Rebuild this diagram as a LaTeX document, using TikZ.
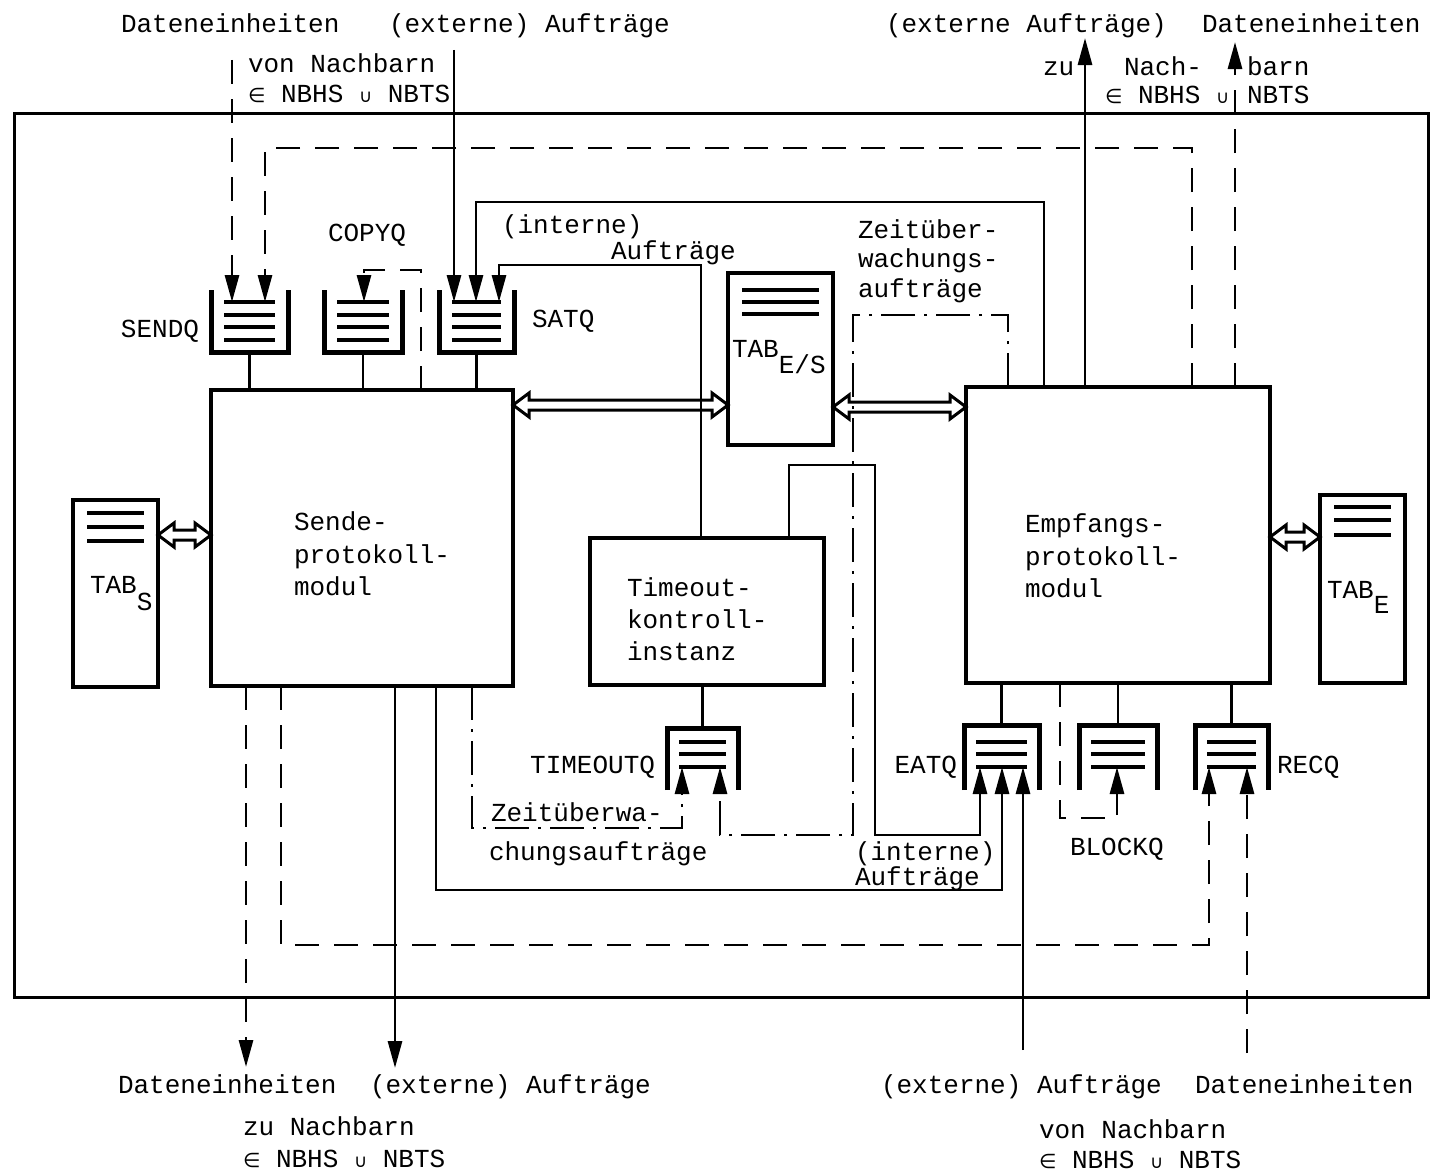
\documentclass[tikz,border=0pt]{standalone}
\usepackage{fontspec}
\setmainfont{Liberation Mono}
\newfontfamily\symfont{DejaVu Sans}
\usetikzlibrary{arrows.meta,calc}
\newcommand\elemof{{\symfont\fontsize{20}{20}\selectfont ∈}}
\newcommand\unionof{{\symfont\fontsize{18}{18}\selectfont ∪}}
\tikzset{
  every node/.style={inner sep=0pt, outer sep=0pt},
  lbl/.style={font=\fontsize{26}{30}\selectfont, anchor=base west},
  lblR/.style={lbl, anchor=base east},
  blk/.style={draw, line width=4.5pt, rectangle},
  qn/.style={rectangle},
  qedge/.style={line width=5pt},
  qrow/.style={line width=4pt},
  conn/.style={line width=2.9pt},
  dsh/.style={conn, dash pattern=on 24pt off 15pt},
  ddot/.style={conn, dash pattern=on 34pt off 9pt on 3pt off 9pt},
  tip/.style={-{Triangle[length=27pt,width=14pt]}},
  dbl/.style={line width=3pt, line join=miter},
  frame/.style={draw, line width=3pt},
}
\newcommand\upqueue[1]{%
  \draw[qedge] ([yshift=12pt]#1.north west) -- (#1.south west) -- (#1.south east) -- ([yshift=12pt]#1.north east);
  \foreach \d in {0,13,25,38}{\draw[qrow] ([xshift=13pt,yshift=-\d pt]#1.north west) -- ([xshift=-13pt,yshift=-\d pt]#1.north east);}}
\newcommand\downqueue[1]{%
  \draw[qedge] ([yshift=-23pt]#1.south west) -- (#1.north west) -- (#1.north east) -- ([yshift=-23pt]#1.south east);
  \foreach \d in {0,13,25}{\draw[qrow] ([xshift=12pt,yshift=\d pt]#1.south west) -- ([xshift=-12pt,yshift=\d pt]#1.south east);}}
\newcommand\tablines[2]{%
  \foreach \d in {#2}{\draw[qrow] ([xshift=14pt,yshift=-\d pt]#1.north west) -- ([xshift=-14pt,yshift=-\d pt]#1.north east);}}
\newcommand\dblarrow[3]{%
  \draw[dbl] let \p1=(#1 |- 0,#3), \p2=(#2 |- 0,#3) in
   (\x1,\y1) -- (\x1+16pt,\y1+12pt) -- (\x1+16pt,\y1+5pt) -- (\x2-16pt,\y1+5pt) -- (\x2-16pt,\y1+12pt) -- (\x2,\y1)
   -- (\x2-16pt,\y1-12pt) -- (\x2-16pt,\y1-5pt) -- (\x1+16pt,\y1-5pt) -- (\x1+16pt,\y1-12pt) -- cycle;}
\begin{document}
\begin{tikzpicture}[x=1pt,y=-1pt]
\useasboundingbox (0,0) rectangle (1439,1172);
\node[frame, minimum width=1414pt, minimum height=884pt] (outer) at (721,555) {};
% main blocks
\node[blk, minimum width=302pt, minimum height=296pt] (sende) at (362,538) {};
\node[blk, minimum width=304pt, minimum height=296pt] (empf) at (1118,535) {};
\node[blk, minimum width=234pt, minimum height=147pt] (timeout) at (707,611.5) {};
\node[blk, minimum width=85pt, minimum height=187pt] (tabS) at (115.5,593.5) {};
\node[blk, minimum width=85pt, minimum height=188pt] (tabE) at (1362.5,589) {};
\node[blk, minimum width=105pt, minimum height=172pt] (tabES) at (780.5,359) {};
\tablines{tabS}{13,27,41}
\tablines{tabE}{12,25,40}
\tablines{tabES}{17,29,41}
% block texts
\node[lbl] (s1) at (294,530) {Sende-};
\node[lbl] (s2) at (294,563) {protokoll-};
\node[lbl] (s3) at (294,595) {modul};
\node[lbl] (t1) at (627,596) {Timeout-};
\node[lbl] (t2) at (627,628) {kontroll-};
\node[lbl] (t3) at (627,660) {instanz};
\node[lbl] (e1) at (1025,532) {Empfangs-};
\node[lbl] (e2) at (1025,565) {protokoll-};
\node[lbl] (e3) at (1025,597) {modul};
\node[lbl] (tabSl) at (90,593) {TAB\raisebox{-17pt}{S}};
\node[lbl] (tabEl) at (1327,598) {TAB\raisebox{-15pt}{E}};
\node[lbl] (tabESl) at (732,357) {TAB\raisebox{-16pt}{E/S}};
% queues
\node[qn, minimum width=77pt, minimum height=50pt] (sendq) at (249.5,327) {};
\node[qn, minimum width=78pt, minimum height=50pt] (copyq) at (363,327) {};
\node[qn, minimum width=75pt, minimum height=50pt] (satq) at (476.5,327) {};
\node[qn, minimum width=71pt, minimum height=39pt] (timeoutq) at (702.5,747.5) {};
\node[qn, minimum width=75pt, minimum height=42pt] (eatq) at (1001.5,746) {};
\node[qn, minimum width=78pt, minimum height=42pt] (blockq) at (1118,746) {};
\node[qn, minimum width=73pt, minimum height=42pt] (recq) at (1231.5,746) {};
\upqueue{sendq}\upqueue{copyq}\upqueue{satq}
\downqueue{timeoutq}\downqueue{eatq}\downqueue{blockq}\downqueue{recq}
\node[lblR] (sendqL) at (199,337) {SENDQ};
\node[lbl] (copyqL) at (328,241) {COPYQ};
\node[lbl] (satqL) at (532,327) {SATQ};
\node[lblR] (timeoutqL) at (655,773) {TIMEOUTQ};
\node[lblR] (eatqL) at (957,773) {EATQ};
\node[lbl] (blockqL) at (1070,855) {BLOCKQ};
\node[lbl] (recqL) at (1277,773) {RECQ};
% outside labels
\node[lbl] (l1) at (121,33) {Dateneinheiten};
\node[lbl] (l2) at (389,33) {(externe) Aufträge};
\node[lbl] (l3) at (248,72) {von Nachbarn};
\node[lbl] (l4) at (248,102) {\elemof{} NBHS \unionof{} NBTS};
\node[lbl] (l5) at (886,33) {(externe Aufträge)};
\node[lbl] (l6) at (1202,33) {Dateneinheiten};
\node[lbl] (l7) at (1043,75) {zu};
\node[lbl] (l8) at (1124,75) {Nach-};
\node[lbl] (l9) at (1247,75) {barn};
\node[lbl] (l10) at (1105,103) {\elemof{} NBHS \unionof};
\node[lbl] (l11) at (1247,103) {NBTS};
\node[lbl] (l12) at (118,1093) {Dateneinheiten};
\node[lbl] (l13) at (370,1093) {(externe) Aufträge};
\node[lbl] (l14) at (243,1135) {zu Nachbarn};
\node[lbl] (l15) at (243,1167) {\elemof{} NBHS \unionof{} NBTS};
\node[lbl] (l16) at (881,1093) {(externe) Aufträge};
\node[lbl] (l17) at (1195,1093) {Dateneinheiten};
\node[lbl] (l18) at (1039,1138) {von Nachbarn};
\node[lbl] (l19) at (1039,1168) {\elemof{} NBHS \unionof{} NBTS};
% inner labels
\node[lbl] (i1) at (502,233) {(interne)};
\node[lbl] (i2) at (611,259) {Aufträge};
\node[lbl] (z1) at (858,238) {Zeitüber-};
\node[lbl] (z2) at (858,267) {wachungs-};
\node[lbl] (z3) at (858,297) {aufträge};
\node[lbl] (z4) at (491,821) {Zeitüberwa-};
\node[lbl] (z5) at (489,860) {chungsaufträge};
\node[lbl] (i3) at (855,860) {(interne)};
\node[lbl] (i4) at (855,885) {Aufträge};
% free ends
\coordinate (inDataTL) at (232,60);
\coordinate (inExtTL) at (454,50);
\coordinate (outExtTR) at (1085,38);
\coordinate (outDataTR) at (1235,42);
\coordinate (outDataBL) at (246,1067);
\coordinate (outExtBL) at (395,1068);
\coordinate (inExtBR) at (1023,1050);
\coordinate (inDataBR) at (1247,1053);
% connectors top
\draw[dsh,tip] (inDataTL) -- (inDataTL |- sendq.north);
\draw[conn,tip] (inExtTL) -- (inExtTL |- satq.north);
\draw[dsh,tip] (1192,0 |- empf.north) -- (1192,148) -- (265,148) -- (265,0 |- sendq.north);
\draw[dsh,tip] (421,0 |- sende.north) -- (421,270) -- (364,270) -- (364,0 |- copyq.north);
\draw[conn,tip] (1044,0 |- empf.north) -- (1044,202) -- (476,202) -- (476,0 |- satq.north);
\draw[conn,tip] (701,0 |- timeout.north) -- (701,265) -- (499,265) -- (499,0 |- satq.north);
\draw[conn] (sendq.south) -- (sendq.south |- sende.north);
\draw[conn] (copyq.south) -- (copyq.south |- sende.north);
\draw[conn] (satq.south) -- (satq.south |- sende.north);
\draw[ddot,tip] (1008,0 |- empf.north) -- (1008,315) -- (853,315) -- (853,835) -- (720,835) -- (720,0 |- timeoutq.south);
\draw[conn,tip] (789,0 |- timeout.north) -- (789,465) -- (875,465) -- (875,835) -- (980,835) -- (980,0 |- eatq.south);
\draw[conn,tip] (1085,0 |- empf.north) -- (outExtTR);
\draw[dsh,tip] (1235,0 |- empf.north) -- (outDataTR);
% connectors bottom
\draw[ddot,tip] (472,0 |- sende.south) -- (472,828) -- (682,828) -- (682,0 |- timeoutq.south);
\draw[conn,tip] (436,0 |- sende.south) -- (436,890) -- (1002,890) -- (1002,0 |- eatq.south);
\draw[dsh,tip] (281,0 |- sende.south) -- (281,945) -- (1209,945) -- (1209,0 |- recq.south);
\draw[dsh,tip] (246,0 |- sende.south) -- (outDataBL);
\draw[conn,tip] (395,0 |- sende.south) -- (outExtBL);
\draw[conn,tip] (inExtBR) -- (inExtBR |- eatq.south);
\draw[dsh,tip] (inDataBR) -- (inDataBR |- recq.south);
\draw[dsh,tip] (1060,0 |- empf.south) -- (1060,818) -- (1117,818) -- (1117,0 |- blockq.south);
\draw[conn] (timeoutq.north |- timeout.south) -- (timeoutq.north);
\draw[conn] (eatq.north |- empf.south) -- (eatq.north);
\draw[conn] (blockq.north |- empf.south) -- (blockq.north);
\draw[conn] (recq.north |- empf.south) -- (recq.north);
% double arrows
\dblarrow{tabS.east}{sende.west}{535}
\dblarrow{sende.east}{tabES.west}{405}
\dblarrow{tabES.east}{empf.west}{407}
\dblarrow{empf.east}{tabE.west}{537}
\end{tikzpicture}
\end{document}
